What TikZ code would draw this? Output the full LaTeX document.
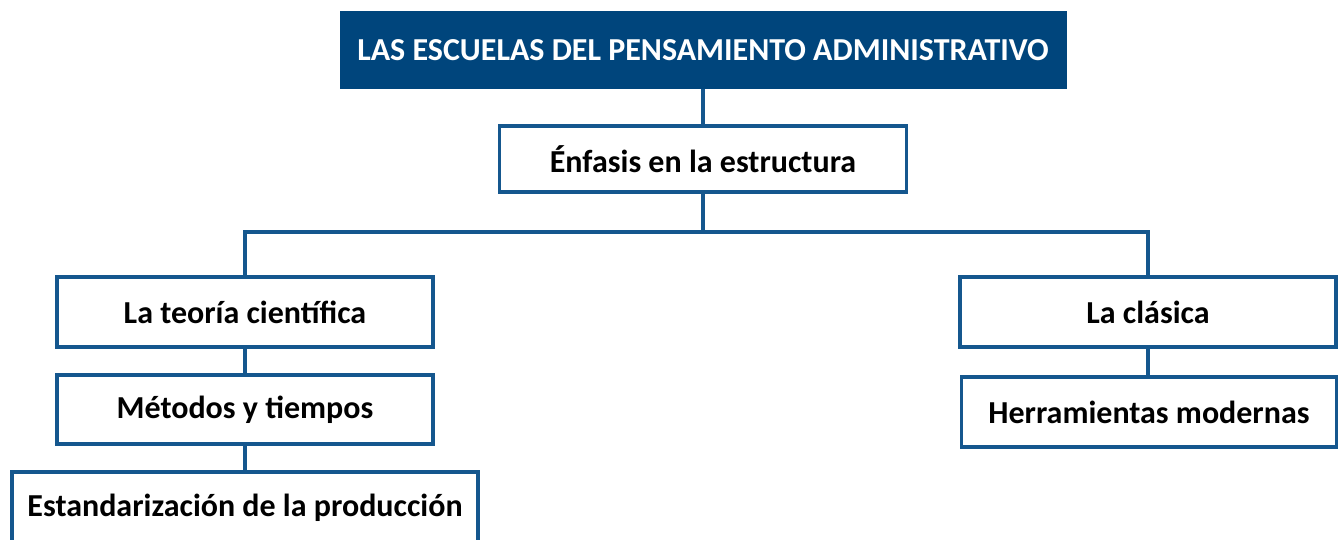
\documentclass[tikz,border=0pt]{standalone}
\usepackage{fontspec}
\setmainfont{Carlito}
\definecolor{navy}{HTML}{00457C}
\definecolor{edgeblue}{HTML}{15578E}
\begin{document}
\begin{tikzpicture}[x=1pt,y=-1pt,
  boxbase/.style={rectangle,inner sep=0pt,font=\fontsize{32}{38}\selectfont\bfseries},
  title/.style={boxbase,fill=navy,text=white,minimum width=727pt,minimum height=78pt},
  box/.style={boxbase,draw=edgeblue,line width=3.6pt,fill=white,text=black},
  link/.style={draw=edgeblue,line width=3.6pt}]
\useasboundingbox (0,0) rectangle (1339,539);
\node[title] (t) at (703,50) {LAS ESCUELAS DEL PENSAMIENTO ADMINISTRATIVO};
\node[box,minimum width=407pt,minimum height=66pt] (e) at (703,159) {Énfasis en la estructura};
\node[box,minimum width=376pt,minimum height=70pt] (tc) at (245,312) {La teoría científica};
\node[box,minimum width=376pt,minimum height=69pt] (mt) at (245,409.5) {Métodos y tiempos};
\node[box,minimum width=466pt,minimum height=72pt] (es) at (245,508) {Estandarización de la producción};
\node[box,minimum width=376pt,minimum height=70pt] (lc) at (1148,312) {La clásica};
\node[box,minimum width=375pt,minimum height=70pt] (hm) at (1149,412) {Herramientas modernas};
\coordinate (j) at (703,232);
\draw[link] (t.south) -- (e.north);
\draw[link] (e.south) -- (j);
\draw[link] (tc.north) |- (j) -| (lc.north);
\draw[link] (tc.south) -- (mt.north);
\draw[link] (mt.south) -- (es.north);
\draw[link] (lc.south) -- (lc.south |- hm.north);
\end{tikzpicture}
\end{document}
